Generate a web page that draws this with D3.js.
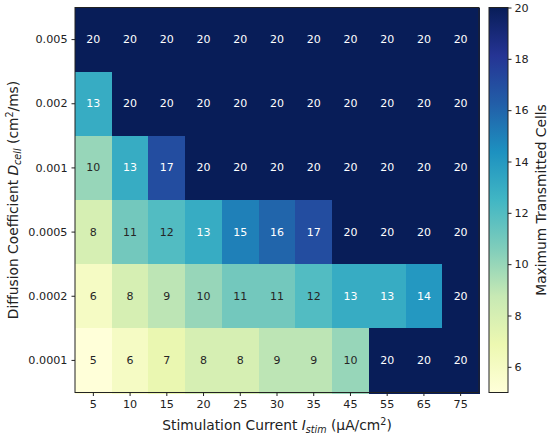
<!DOCTYPE html>
<html>
<head>
<meta charset="UTF-8">
<script src="https://d3js.org/d3.v7.min.js"></script>
<style>
  body { margin: 0; background: #fff; font-family: "DejaVu Sans", sans-serif; }
  svg text { font-family: "DejaVu Sans", sans-serif; fill: #222; }
</style>
</head>
<body>
<svg id="chart" width="550" height="438"></svg>
<script>
// stimulation currents (columns) and diffusion coefficients (rows, top to bottom)
const currents = ["5", "10", "15", "20", "25", "30", "35", "45", "55", "65", "75"];
const diffusions = ["0.005", "0.002", "0.001", "0.0005", "0.0002", "0.0001"];

const row0005 = [20, 20, 20, 20, 20, 20, 20, 20, 20, 20, 20];
const row0002 = [13, 20, 20, 20, 20, 20, 20, 20, 20, 20, 20];
const row0001 = [10, 13, 17, 20, 20, 20, 20, 20, 20, 20, 20];
const row00005 = [8, 11, 12, 13, 15, 16, 17, 20, 20, 20, 20];
const row00002 = [6, 8, 9, 10, 11, 11, 12, 13, 13, 14, 20];
const row00001 = [5, 6, 7, 8, 8, 9, 9, 10, 20, 20, 20];
const rows = [row0005, row0002, row0001, row00005, row00002, row00001];

const colorTicks = [6, 8, 10, 12, 14, 16, 18, 20];
const vmin = 5, vmax = 20;

// YlGnBu
const ylgnbu = ["#ffffd9", "#edf8b1", "#c7e9b4", "#7fcdbb", "#41b6c4", "#1d91c0", "#225ea8", "#253494", "#081d58"];
const color = d3.scaleLinear()
  .domain(d3.range(ylgnbu.length).map(i => vmin + (vmax - vmin) * i / (ylgnbu.length - 1)))
  .range(ylgnbu)
  .interpolate(d3.interpolateRgb)
  .clamp(true);

const svg = d3.select("#chart");
const plot = { left: 75, right: 479, top: 7.5, bottom: 392.5 };

const x = d3.scaleBand().domain(currents).range([plot.left, plot.right]);
const y = d3.scaleBand().domain(diffusions).range([plot.top, plot.bottom]);

const cells = [];
rows.forEach((r, i) => r.forEach((v, j) => cells.push({ d: diffusions[i], c: currents[j], v })));

svg.append("g").selectAll("rect")
  .data(cells)
  .join("rect")
  .attr("x", d => x(d.c))
  .attr("y", d => y(d.d))
  .attr("width", x.bandwidth() + 1)
  .attr("height", y.bandwidth() + 1)
  .attr("shape-rendering", "crispEdges")
  .attr("fill", d => color(d.v));

svg.append("g").selectAll("text")
  .data(cells)
  .join("text")
  .attr("x", d => x(d.c) + x.bandwidth() / 2)
  .attr("y", d => y(d.d) + y.bandwidth() / 2)
  .attr("text-anchor", "middle")
  .attr("dominant-baseline", "central")
  .style("font-size", "11px")
  .style("fill", d => d.v >= 13 ? "#ffffff" : "#262626")
  .text(d => d.v);

// frame
svg.append("rect")
  .attr("x", plot.left).attr("y", plot.top)
  .attr("width", plot.right - plot.left).attr("height", plot.bottom - plot.top)
  .attr("fill", "none").attr("stroke", "#222").attr("stroke-width", 1);

// axes
const xAxis = svg.append("g")
  .attr("transform", `translate(0,${plot.bottom})`)
  .call(d3.axisBottom(x).tickSize(3.5).tickPadding(4));
const yAxis = svg.append("g")
  .attr("transform", `translate(${plot.left},0)`)
  .call(d3.axisLeft(y).tickSize(3.5).tickPadding(4));
[xAxis, yAxis].forEach(a => {
  a.select(".domain").remove();
  a.selectAll("line").attr("stroke", "#222");
  a.selectAll("text").style("font-size", "11.2px").style("font-family", "DejaVu Sans").attr("fill", "#222");
});

// axis titles
const labelSize = "13.8px", subSize = "9.6px";
const xt = svg.append("text")
  .attr("x", (plot.left + plot.right) / 2)
  .attr("y", 430)
  .attr("text-anchor", "middle")
  .style("font-size", labelSize);
xt.append("tspan").text("Stimulation Current ");
xt.append("tspan").style("font-style", "italic").text("I");
xt.append("tspan").style("font-style", "italic").style("font-size", subSize).attr("dy", 3).text("stim");
xt.append("tspan").attr("dy", -3).text(" (μA/cm");
xt.append("tspan").style("font-size", subSize).attr("dy", -5).text("2");
xt.append("tspan").attr("dy", 5).text(")");

const yt = svg.append("text")
  .attr("transform", `translate(18,${(plot.top + plot.bottom) / 2}) rotate(-90)`)
  .attr("text-anchor", "middle")
  .style("font-size", labelSize);
yt.append("tspan").text("Diffusion Coefficient ");
yt.append("tspan").style("font-style", "italic").text("D");
yt.append("tspan").style("font-style", "italic").style("font-size", subSize).attr("dy", 3).text("cell");
yt.append("tspan").attr("dy", -3).text(" (cm");
yt.append("tspan").style("font-size", subSize).attr("dy", -5).text("2");
yt.append("tspan").attr("dy", 5).text("/ms)");

// colorbar
const cb = { left: 489, right: 508, top: 7.5, bottom: 392.5 };
const cy = d3.scaleLinear().domain([vmin, vmax]).range([cb.bottom, cb.top]);
const defs = svg.append("defs");
const grad = defs.append("linearGradient").attr("id", "cbgrad")
  .attr("x1", 0).attr("y1", 1).attr("x2", 0).attr("y2", 0);
ylgnbu.forEach((c, i) => grad.append("stop")
  .attr("offset", i / (ylgnbu.length - 1)).attr("stop-color", c));
svg.append("rect")
  .attr("x", cb.left).attr("y", cb.top)
  .attr("width", cb.right - cb.left).attr("height", cb.bottom - cb.top)
  .attr("fill", "url(#cbgrad)").attr("stroke", "#222").attr("stroke-width", 1);
const cAxis = svg.append("g")
  .attr("transform", `translate(${cb.right},0)`)
  .call(d3.axisRight(cy).tickValues(colorTicks).tickSize(3.5).tickPadding(3));
cAxis.select(".domain").remove();
cAxis.selectAll("line").attr("stroke", "#222");
cAxis.selectAll("text").style("font-size", "11.2px").style("font-family", "DejaVu Sans").attr("fill", "#222");

svg.append("text")
  .attr("transform", `translate(546,${(cb.top + cb.bottom) / 2}) rotate(-90)`)
  .attr("text-anchor", "middle")
  .style("font-size", labelSize)
  .text("Maximum Transmitted Cells");
</script>
</body>
</html>
